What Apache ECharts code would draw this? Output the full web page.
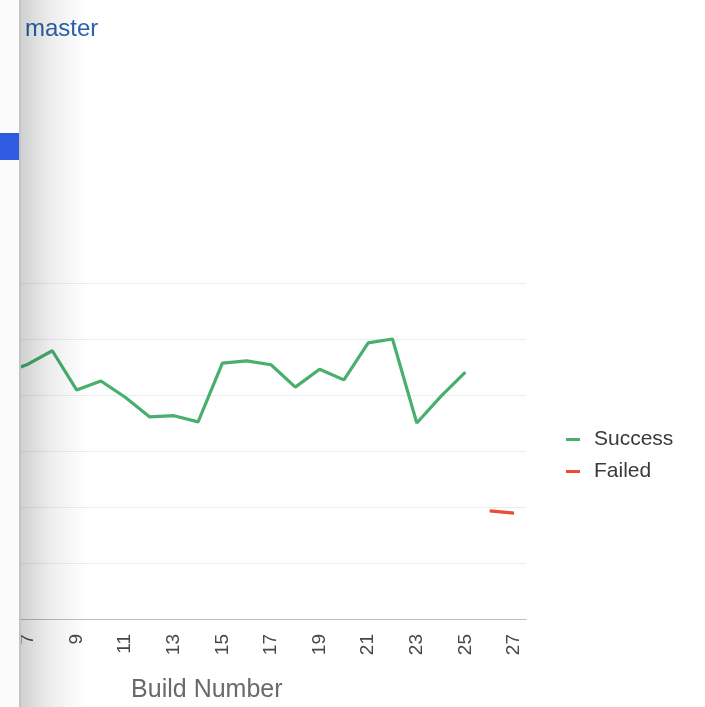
<!DOCTYPE html>
<html>
<head>
<meta charset="utf-8">
<script src="https://cdn.jsdelivr.net/npm/echarts@6/dist/echarts.min.js"></script>
<style>
  html, body { margin: 0; padding: 0; background: #ffffff; overflow: hidden; }
  body { position: relative; width: 705px; height: 707px; }
  /* the chart starts slightly left of the viewport, under the side panel */
  #chart { position: absolute; left: -9px; top: 0; width: 714px; height: 707px; }
</style>
</head>
<body>
<div id="chart"></div>
<script>
// Build numbers shown on the x axis
const builds = ['6', '7', '8', '9', '10', '11', '12', '13', '14', '15', '16',
                '17', '18', '19', '20', '21', '22', '23', '24', '25', '26', '27'];

// Build duration per build (successful builds)
const successDurations = [43.9, 45.5, 47.9, 40.9, 42.5, 39.6, 36.1, 36.3, 35.2, 45.7, 46.1,
                          45.4, 41.4, 44.6, 42.7, 49.3, 50.0, 35.0, 39.8, 44.1, null, null];

// Build duration per build (failed builds)
const failedDurations = [null, null, null, null, null, null, null, null, null, null, null,
                         null, null, null, null, null, null, null, null, null, 19.3, 18.9];

const seriesNames = ['Success', 'Failed'];
const branchName = 'master';

// horizontal offset of the chart container relative to the page
const OFF = 9;

const chart = echarts.init(document.getElementById('chart'), null, { renderer: 'canvas' });

const font = 'Liberation Sans, Arial, sans-serif';

const option = {
  animation: false,
  backgroundColor: '#ffffff',
  title: {
    text: branchName,
    left: 20 + OFF,
    top: 12,
    textStyle: {
      color: '#2a62ad',
      fontSize: 24,
      fontWeight: 'normal',
      fontFamily: font
    }
  },
  legend: {
    orient: 'vertical',
    left: 561 + OFF,
    top: 424,
    icon: 'rect',
    itemWidth: 14,
    itemHeight: 3,
    itemGap: 11,
    data: seriesNames,
    textStyle: {
      color: '#3a3a3a',
      fontSize: 21,
      lineHeight: 20,
      padding: [0, 0, 0, 9],
      fontFamily: font
    }
  },
  grid: {
    left: 0.55,
    right: 178.85,
    top: 283,
    bottom: 88,
    containLabel: false
  },
  xAxis: {
    type: 'category',
    data: builds,
    boundaryGap: true,
    name: 'Build Number',
    nameLocation: 'middle',
    nameGap: 59,
    nameTextStyle: {
      color: '#6a6a6a',
      fontSize: 25,
      padding: [0, 104, 0, 0],
      fontFamily: font
    },
    axisLine: { lineStyle: { color: '#bdbdbd', width: 1.2 } },
    axisTick: { show: false },
    axisLabel: {
      rotate: 90,
      margin: 15,
      color: '#474747',
      fontSize: 19,
      fontFamily: font,
      interval: function (index, value) { return Number(value) % 2 === 1; }
    },
    splitLine: { show: false }
  },
  yAxis: {
    type: 'value',
    min: 0,
    max: 60,
    interval: 10,
    axisLine: { show: false },
    axisTick: { show: false },
    axisLabel: { show: false },
    splitLine: { lineStyle: { color: '#ececec', width: 1.2 } }
  },
  series: [
    {
      name: seriesNames[0],
      type: 'line',
      data: successDurations,
      symbol: 'none',
      connectNulls: false,
      lineStyle: { color: '#48b06c', width: 3.2 },
      itemStyle: { color: '#48b06c' }
    },
    {
      name: seriesNames[1],
      type: 'line',
      data: failedDurations,
      symbol: 'none',
      connectNulls: false,
      lineStyle: { color: '#ef4a36', width: 3.2 },
      itemStyle: { color: '#ef4a36' }
    }
  ],
  graphic: [
    // side navigation panel overlapping the chart
    { type: 'rect', z: 100, shape: { x: 0, y: 0, width: 20 + OFF, height: 707 }, style: { fill: '#fbfbfb' } },
    { type: 'rect', z: 101, shape: { x: 0, y: 133, width: 20 + OFF, height: 27 }, style: { fill: '#2f5be0' } },
    { type: 'rect', z: 101, shape: { x: 19 + OFF, y: 0, width: 2, height: 707 }, style: { fill: '#c4c4c4' } },
    {
      type: 'rect', z: 100,
      shape: { x: 21 + OFF, y: 0, width: 65, height: 707 },
      style: {
        fill: new echarts.graphic.LinearGradient(0, 0, 1, 0, [
          { offset: 0, color: 'rgba(0,0,0,0.18)' },
          { offset: 0.45, color: 'rgba(0,0,0,0.07)' },
          { offset: 1, color: 'rgba(0,0,0,0)' }
        ])
      }
    }
  ]
};

chart.setOption(option);
</script>
</body>
</html>
